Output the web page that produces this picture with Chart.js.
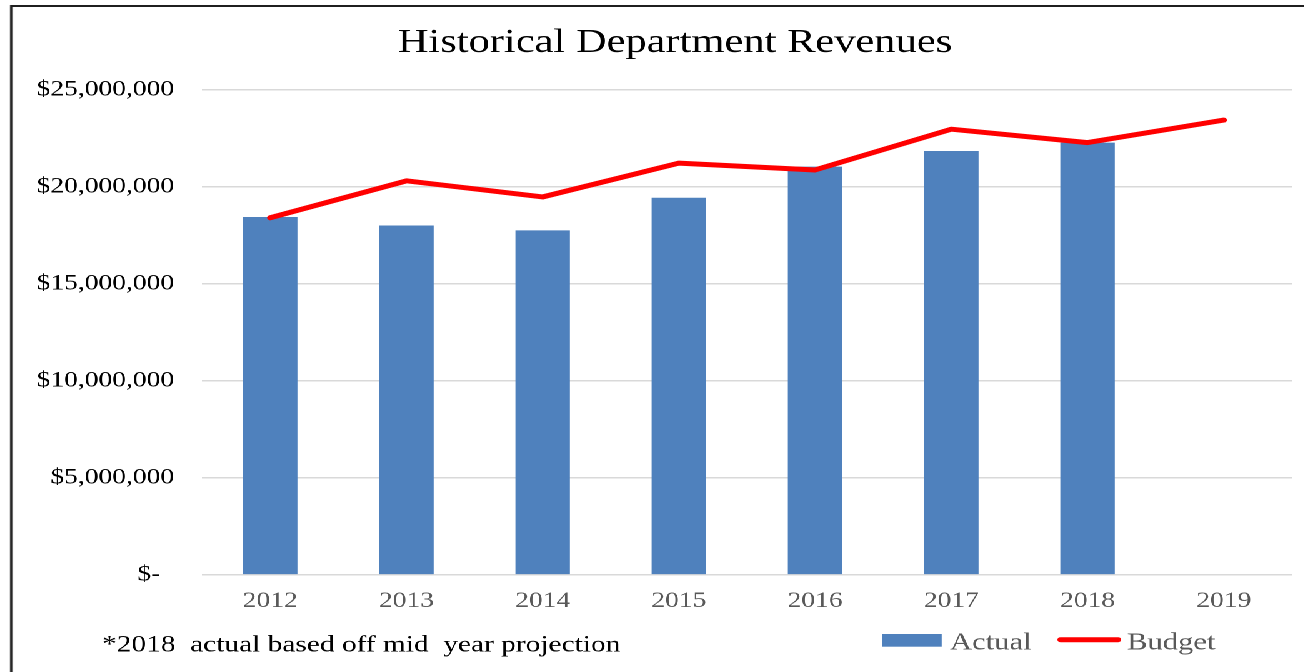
<!DOCTYPE html>
<html>
<head>
<meta charset="utf-8">
<script src="https://cdn.jsdelivr.net/npm/chart.js@4/dist/chart.umd.min.js"></script>
<style>
  html, body { margin: 0; padding: 0; background: #fff; overflow: hidden; }
  body { width: 1304px; height: 672px; position: relative; }
  /* the reference chart is stretched sideways, so the whole chart is too */
  #wrap { position: absolute; left: 0; top: 0; width: 1080px; height: 672px;
          transform: scaleX(1.25); transform-origin: 0 0; }
  #frame { position: absolute; left: 8px; top: 5px; width: 1064px; height: 700px;
           border-left: 2px solid #1f1f1f; border-top: 2.5px solid #1f1f1f; }
  #box { position: absolute; left: 0; top: 0; width: 1080px; height: 672px; }
</style>
</head>
<body>
<div id="wrap">
  <div id="frame"></div>
  <div id="box"><canvas id="revenueChart"></canvas></div>
</div>
<script>
// Data
const years = ['2012', '2013', '2014', '2015', '2016', '2017', '2018', '2019'];
const actual = [18440000, 18000000, 17750000, 19430000, 21030000, 21840000, 22270000, null];
const budget = [18400000, 20300000, 19470000, 21210000, 20860000, 22960000, 22270000, 23430000];
const yTicks = [0, 5000000, 10000000, 15000000, 20000000, 25000000];
const footnote = '*2018  actual based off mid  year projection';

const SERIF = '"Liberation Serif", "Times New Roman", serif';

// Footnote and legend sit on one line under the axis
const bottomTextPlugin = {
  id: 'bottomText',
  afterDraw(chart) {
    const ctx = chart.ctx;
    const ds = chart.data.datasets;
    ctx.save();
    ctx.textBaseline = 'alphabetic';
    ctx.textAlign = 'left';

    ctx.font = '23.5px ' + SERIF;
    ctx.fillStyle = '#000';
    ctx.fillText(footnote, 81.6, 651.7);

    // Actual
    ctx.fillStyle = ds[0].backgroundColor;
    ctx.fillRect(705.6, 634, 47.8, 12.7);
    ctx.font = '24.5px ' + SERIF;
    ctx.fillStyle = '#595959';
    ctx.fillText(ds[0].label, 760, 649.3);

    // Budget
    ctx.strokeStyle = ds[1].borderColor;
    ctx.lineWidth = 5;
    ctx.lineCap = 'round';
    ctx.beginPath();
    ctx.moveTo(848.5, 639.7);
    ctx.lineTo(894.5, 639.7);
    ctx.stroke();
    ctx.fillStyle = '#595959';
    ctx.fillText(ds[1].label, 901.6, 649.3);
    ctx.restore();
  }
};

const ctx = document.getElementById('revenueChart').getContext('2d');
new Chart(ctx, {
  type: 'bar',
  data: {
    labels: years,
    datasets: [
      {
        type: 'bar',
        label: 'Actual',
        data: actual,
        backgroundColor: '#4f81bd',
        borderWidth: 0,
        categoryPercentage: 1,
        barPercentage: 0.4,
        order: 1
      },
      {
        type: 'line',
        label: 'Budget',
        data: budget,
        borderColor: '#ff0000',
        backgroundColor: '#ff0000',
        borderWidth: 5,
        borderCapStyle: 'round',
        borderJoinStyle: 'round',
        pointRadius: 0,
        tension: 0,
        fill: false,
        order: 0
      }
    ]
  },
  options: {
    responsive: true,
    maintainAspectRatio: false,
    devicePixelRatio: 2,
    animation: false,
    layout: {
      padding: { left: 0, right: 0, top: 0, bottom: 44.7 }
    },
    plugins: {
      legend: { display: false },
      tooltip: { enabled: false },
      title: {
        display: true,
        text: 'Historical Department Revenues',
        color: '#000',
        font: { family: SERIF, size: 34, weight: 'normal' },
        padding: { top: 22.6, bottom: 26.2 }
      }
    },
    scales: {
      x: {
        grid: { display: false, drawTicks: false },
        border: { display: false },
        ticks: {
          color: '#595959',
          padding: 13,
          font: { family: SERIF, size: 22 }
        }
      },
      y: {
        min: 0,
        max: 25000000,
        afterFit(scale) { scale.width = 161.6; },
        afterBuildTicks(scale) { scale.ticks = yTicks.map(v => ({ value: v })); },
        grid: { color: '#d9d9d9', lineWidth: 1.5, drawTicks: false },
        border: { display: false },
        ticks: {
          color: '#000',
          padding: 22.4,
          font: { family: SERIF, size: 22 },
          callback: v => v === 0 ? '$-  ' : '$' + v.toLocaleString('en-US')
        }
      },
      // empty right-hand strip so the plot stops where the reference's does
      // while the title stays centred on the whole frame
      yRight: {
        position: 'right',
        afterFit(scale) { scale.width = 46.4; },
        grid: { display: false, drawTicks: false },
        border: { display: false },
        ticks: { display: false }
      }
    }
  },
  plugins: [bottomTextPlugin]
});
</script>
</body>
</html>
